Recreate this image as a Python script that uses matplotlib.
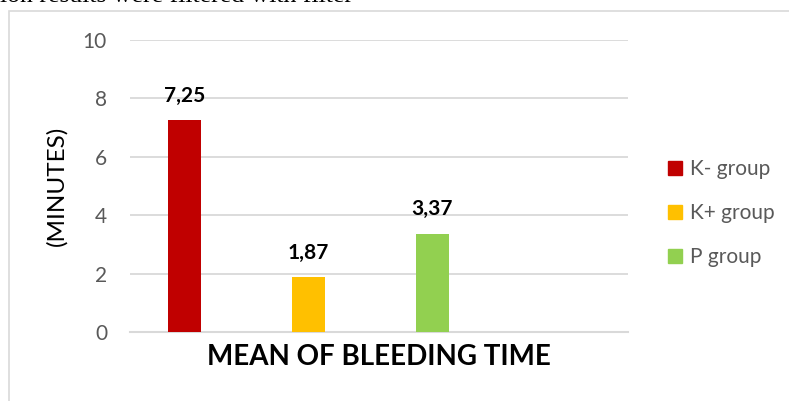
import matplotlib
matplotlib.use("Agg")
import matplotlib.pyplot as plt
from matplotlib.patches import Rectangle

groups = ["K- group", "K+ group", "P group"]
values = [7.25, 1.87, 3.37]
labels = ["7,25", "1,87", "3,37"]
colors = ["#C00000", "#FFC000", "#92D050"]
yticks = [0, 2, 4, 6, 8, 10]
ylabel = "(MINUTES)"
xlabel = "MEAN OF BLEEDING TIME"
caption = "ion results were filtered with filter"

W, H = 789, 401
fig = plt.figure(figsize=(W / 100, H / 100), dpi=100)
fig.patch.set_facecolor("white")

FONT = "Lato"

# clipped caption text from the surrounding document
fig.text(0 / W, 1 - 2.5 / H, caption, family="Liberation Serif", fontsize=18.5,
         color="black", ha="left", va="baseline")

# chart frame
fig.add_artist(Rectangle((9 / W, -0.1), 1.2, 1 - 11 / H + 0.1, transform=fig.transFigure,
                         fill=False, edgecolor="#d9d9d9", linewidth=1.2))

ax = fig.add_axes([130 / W, (H - 332) / H, 498 / W, 292 / H])
x = list(range(len(values)))
ax.bar(x, values, width=33 / 124, color=colors, zorder=3)
ax.set_xlim(-54.5 / 124, (628 - 184.5) / 124)
ax.set_ylim(0, 10)
ax.set_yticks(yticks)
ax.set_yticklabels([str(t) for t in yticks], family=FONT, fontsize=15, color="#595959")
ax.tick_params(axis="y", length=0, pad=23 * 0.72)
ax.set_xticks([])
ax.grid(axis="y", color="#d9d9d9", linewidth=1.3, zorder=0)
for s in ["top", "right", "left"]:
    ax.spines[s].set_visible(False)
ax.spines["bottom"].set_color("#d9d9d9")
ax.spines["bottom"].set_linewidth(1.5)

for xi, v, lab in zip(x, values, labels):
    ax.annotate(lab, (xi, v), xytext=(0, 17.5), textcoords="offset points",
                ha="center", va="center", family=FONT, fontweight="bold",
                fontsize=15, color="black")

ax.set_ylabel(ylabel, family=FONT, fontsize=17.5, color="black")
ax.yaxis.set_label_coords((57 - 130) / 498, 0.5)
ax.yaxis.label.set_va("center")
ax.set_xlabel(xlabel, family=FONT, fontweight="bold", fontsize=20, color="black")
ax.xaxis.set_label_coords(0.5, -(357 - 332) / 292)
ax.xaxis.label.set_va("center")

handles = [Rectangle((0, 0), 1, 1, color=c) for c in colors]
leg = fig.legend(handles, groups, loc="upper left", bbox_to_anchor=(660 / W, 1 - 151 / H),
                 frameon=False, prop={"family": FONT, "size": 15},
                 handlelength=0.65, handleheight=0.65, handletextpad=0.4,
                 labelspacing=1.15, borderaxespad=0)
for t in leg.get_texts():
    t.set_color("#595959")

fig.savefig("out.png", dpi=100)
